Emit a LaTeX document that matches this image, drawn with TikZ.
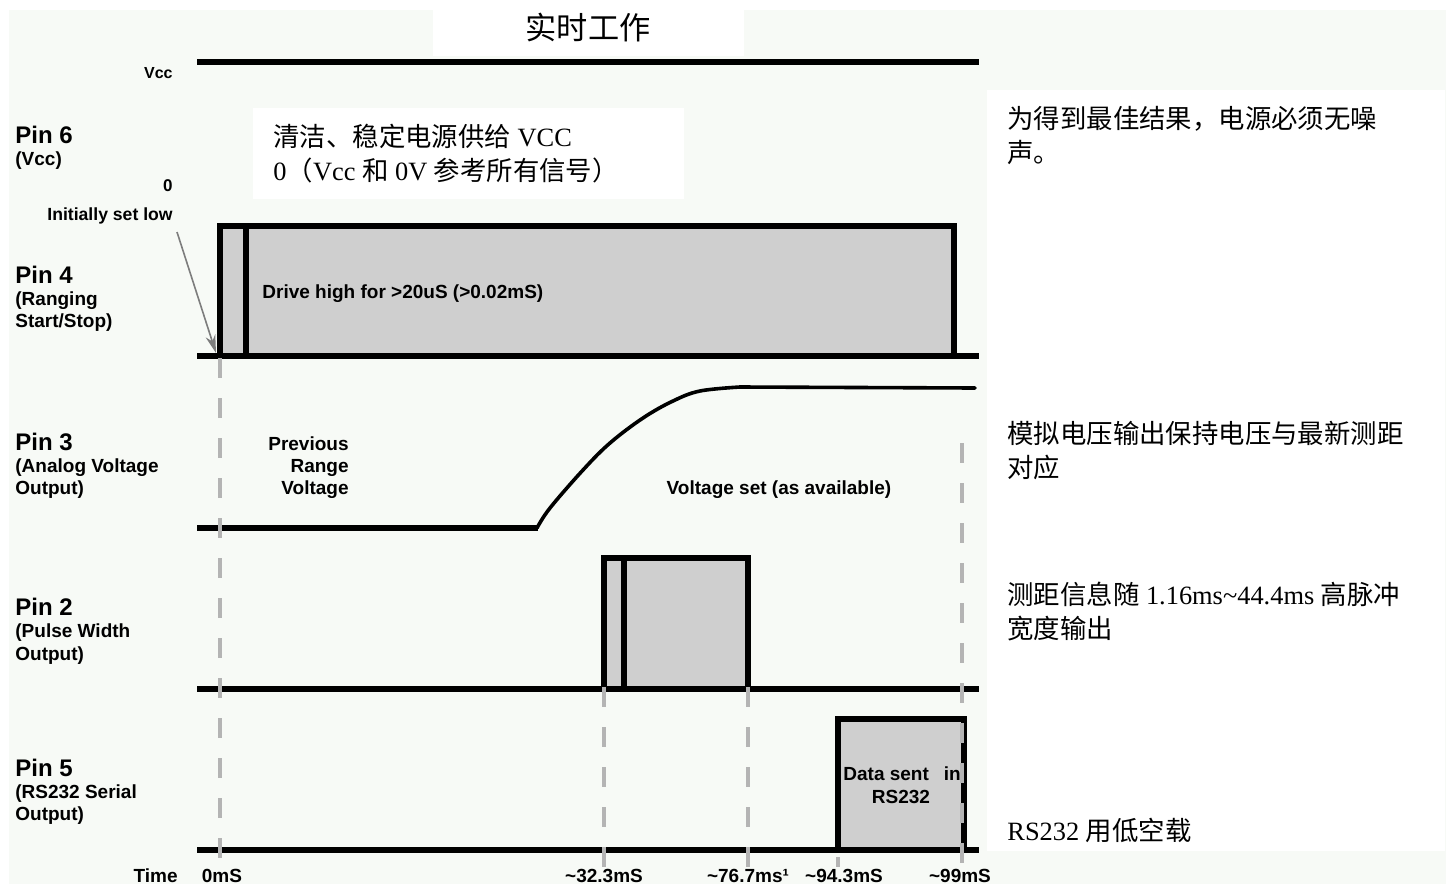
\documentclass[tikz,border=0pt]{standalone}
\usepackage{fontspec}
\setmainfont{Liberation Serif}
\newfontfamily\arial{Liberation Sans}
\newfontfamily\cjk{Noto Sans CJK SC}
\usetikzlibrary{arrows.meta}
\definecolor{bgtint}{RGB}{247,250,246}
\definecolor{pfill}{RGB}{207,207,207}
\definecolor{dashgray}{RGB}{180,180,180}
\definecolor{arrgray}{RGB}{125,125,125}
\newcommand{\zh}[1]{{\cjk #1}}
\begin{document}
\begin{tikzpicture}[x=0.5pt,y=-0.5pt,
  lbl/.style={font=\arial\bfseries\fontsize{9.5}{11}\selectfont, inner sep=0pt},
  pinlbl/.style={font=\arial\bfseries\fontsize{12}{14}\selectfont, inner sep=0pt, anchor=base west},
  sublbl/.style={lbl, anchor=base west},
  rlbl/.style={lbl, anchor=base east},
  clbl/.style={lbl, anchor=base},
  notetxt/.style={font=\fontsize{13.2}{16}\selectfont, inner sep=0pt, anchor=base west},
  sigline/.style={line width=3pt},
  pulsebox/.style={line width=2.6pt, fill=pfill, line join=miter},
  guideline/.style={dashgray, line width=1.6pt, dash pattern=on 10pt off 10pt},
]
\useasboundingbox (0,0) rectangle (1452,884);
% backgrounds
\fill[white] (0,0) rectangle (1452,884);
\fill[bgtint] (9,10) rectangle (1446,884);
\fill[white] (433,9) rectangle (744,56);
\fill[white] (253,108) rectangle (684,199);
\fill[white] (987,90) rectangle (1445,851);

% title
\node[font=\cjk\fontsize{15.6}{18}\selectfont, inner sep=0pt, anchor=base] (title) at (588,39) {实时工作};

% Vcc
\draw[sigline] (197,62) -- (979,62);
\node[lbl, font=\arial\bfseries\fontsize{8}{10}\selectfont, anchor=base east] (vcc) at (173,78) {Vcc};

% Pin labels
\node[pinlbl] (p6) at (15,143) {Pin 6};
\node[sublbl] (p6a) at (15,165) {(Vcc)};
\node[rlbl, font=\arial\bfseries\fontsize{8.5}{10}\selectfont] (zero) at (173,191) {0};
\node[rlbl, font=\arial\bfseries\fontsize{8.8}{10}\selectfont] (initlow) at (173,220) {Initially set low};

\node[pinlbl] (p4) at (15,283) {Pin 4};
\node[sublbl] (p4a) at (15,305) {(Ranging};
\node[sublbl] (p4b) at (15,327) {Start/Stop)};

\node[pinlbl] (p3) at (15,450) {Pin 3};
\node[sublbl] (p3a) at (15,472) {(Analog Voltage};
\node[sublbl] (p3b) at (15,494) {Output)};

\node[pinlbl] (p2) at (15,615) {Pin 2};
\node[sublbl] (p2a) at (15,637) {(Pulse Width};
\node[sublbl] (p2b) at (15,660) {Output)};

\node[pinlbl] (p5) at (15,776) {Pin 5};
\node[sublbl] (p5a) at (15,798) {(RS232 Serial};
\node[sublbl] (p5b) at (15,820) {Output)};

% Note box text
\node[notetxt] (n1) at (273,146) {\zh{清洁、稳定电源供给} VCC};
\node[notetxt] (n2) at (273,180) {0\zh{（}Vcc \zh{和} 0V \zh{参考所有信号）}};

% Pin 4 waveform
\draw[pulsebox] (220,356) -- (220,226) -- (954,226) -- (954,356);
\draw[line width=2.6pt] (246,226) -- (246,356);
\draw[sigline] (197,356) -- (979,356);
\node[sublbl] (drive) at (262,298) {Drive high for >20uS (>0.02mS)};
\coordinate (arrS) at (177,232);
\coordinate (arrE) at (216,353);
\draw[arrgray, line width=0.8pt, -{Stealth[length=9pt,width=5pt]}] (arrS) -- (arrE);

% Pin 3 waveform
\draw[sigline] (197,528) -- (538,528);
\draw[line width=1.8pt, line cap=round] plot[smooth, tension=0.6] coordinates {(537,528) (550,508) (583,470) (610,443) (643,418) (673,401) (700,391) (740,387)} -- (975,388);
\node[rlbl] (prev1) at (349,450) {Previous};
\node[rlbl] (prev2) at (349,472) {Range};
\node[rlbl] (prev3) at (349,494) {Voltage};
\node[clbl] (vset) at (779,494) {Voltage set (as available)};

% Pin 2 waveform
\draw[pulsebox] (604,689) -- (604,558) -- (748,558) -- (748,689);
\draw[line width=2.6pt] (624,558) -- (624,689);
\draw[sigline] (197,689) -- (979,689);

% Pin 5 waveform
\draw[pulsebox] (838,850) -- (838,719) -- (964,719) -- (964,850);
\draw[sigline] (197,850) -- (979,850);
\node[sublbl] (data1) at (843,780) {Data sent\hspace{7.5pt}in};
\node[clbl] (data2) at (901,803) {RS232};

% guide lines
\draw[guideline] (220,358) -- (220,868);
\draw[guideline] (962,443) -- (962,868);
\draw[guideline] (604,687) -- (604,868);
\draw[guideline] (748,687) -- (748,868);
\draw[dashgray, line width=1.6pt] (838,857) -- (838,867);

% time labels
\node[rlbl] (time) at (178,882) {Time};
\node[clbl] (t0) at (222,882) {0mS};
\node[clbl] (t1) at (604,882) {\textasciitilde32.3mS};
\node[clbl] (t2) at (748,882) {\textasciitilde76.7ms¹};
\node[clbl] (t3) at (844,882) {\textasciitilde94.3mS};
\node[clbl] (t4) at (960,882) {\textasciitilde99mS};

% right column notes
\node[notetxt] (r1) at (1007,128) {\zh{为得到最佳结果，电源必须无噪}};
\node[notetxt] (r2) at (1007,162) {\zh{声。}};
\node[notetxt] (r3) at (1007,443) {\zh{模拟电压输出保持电压与最新测距}};
\node[notetxt] (r4) at (1007,477) {\zh{对应}};
\node[notetxt] (r5) at (1007,604) {\zh{测距信息随} 1.16ms\textasciitilde44.4ms \zh{高脉冲}};
\node[notetxt] (r6) at (1007,638) {\zh{宽度输出}};
\node[notetxt] (r7) at (1007,840) {RS232 \zh{用低空载}};
\end{tikzpicture}
\end{document}
